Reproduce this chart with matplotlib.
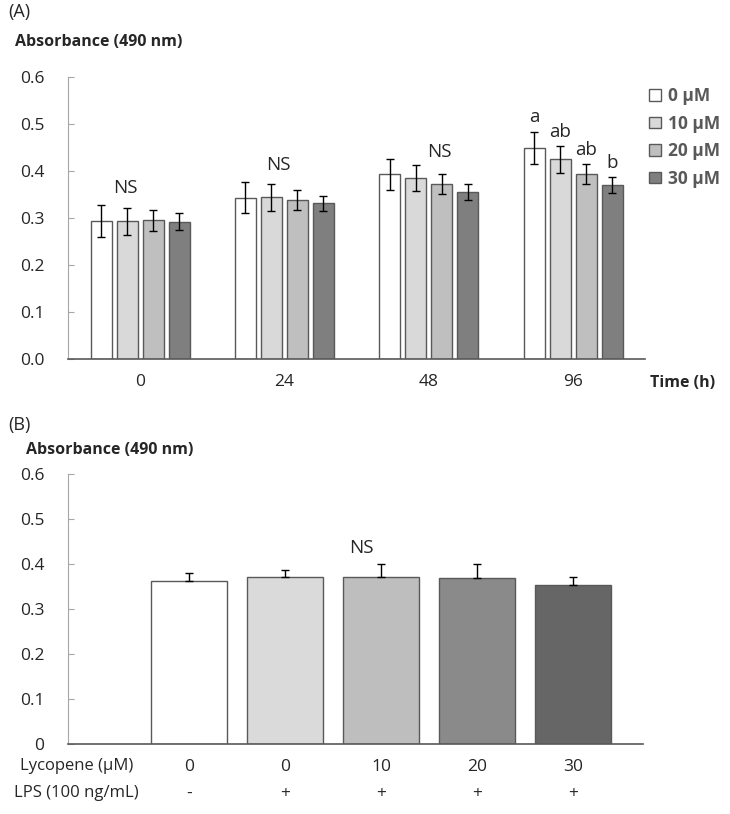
import matplotlib
matplotlib.use("Agg")
import matplotlib.pyplot as plt
import numpy as np

plt.rcParams['font.family'] = ['Open Sans', 'DejaVu Sans']

# panel A data
times = ["0", "24", "48", "96"]
doses = ["0 μM", "10 μM", "20 μM", "30 μM"]
means_a = [
    [0.294, 0.343, 0.394, 0.450],   # 0 uM
    [0.293, 0.344, 0.385, 0.425],   # 10 uM
    [0.295, 0.339, 0.373, 0.394],   # 20 uM
    [0.292, 0.332, 0.356, 0.370],   # 30 uM
]
errs_a = [
    [0.034, 0.033, 0.033, 0.034],
    [0.029, 0.028, 0.028, 0.028],
    [0.023, 0.021, 0.021, 0.021],
    [0.018, 0.016, 0.017, 0.017],
]
ns_a = ["NS", "NS", "NS"]
ns_a_pos = [(-0.10, 0.364), (-0.04, 0.413), (0.07, 0.440)]   # offset from group centre, height
letters_96 = ["a", "ab", "ab", "b"]

# panel B data
lycopene = ["0", "0", "10", "20", "30"]
lps = ["-", "+", "+", "+", "+"]
means_b = [0.361, 0.370, 0.370, 0.368, 0.353]
errs_b = [0.018, 0.017, 0.029, 0.031, 0.017]

colors_a = ["#ffffff", "#d9d9d9", "#bfbfbf", "#7f7f7f"]
colors_b = ["#ffffff", "#dadada", "#bebebe", "#8a8a8a", "#666666"]
edge = "#595959"
txt = "#262626"

fig = plt.figure(figsize=(7.3, 8.14), dpi=100)


def style_axis(ax, zero_label):
    ax.set_ylim(0, 0.6)
    ax.set_yticks(np.arange(0, 0.61, 0.1))
    labels = ["%.1f" % v for v in np.arange(0, 0.61, 0.1)]
    labels[0] = zero_label
    ax.set_yticklabels(labels, fontsize=12.5, color=txt)
    for s in ["top", "right"]:
        ax.spines[s].set_visible(False)
    ax.spines["left"].set_color("#a6a6a6")
    ax.spines["bottom"].set_color(edge)
    ax.spines["bottom"].set_linewidth(1.2)
    ax.tick_params(axis="y", direction="in", length=4, color="#a6a6a6", pad=17)
    ax.tick_params(axis="x", length=0)


# ---- (A)
ax1 = fig.add_axes([0.093, 0.559, 0.791, 0.346])
x = np.arange(len(times))
w = 0.146
step = 0.18
bars = []
for i in range(len(doses)):
    pos = x + (i - 1.5) * step
    b = ax1.bar(pos, means_a[i], w, color=colors_a[i], edgecolor=edge, linewidth=1.0, label=doses[i])
    ax1.errorbar(pos, means_a[i], yerr=errs_a[i], fmt="none", ecolor="black", elinewidth=1, capsize=3, capthick=1)
    bars.append(b)
ax1.set_xlim(-0.5, 3.5)
ax1.set_xticks(x)
ax1.set_xticklabels(times, fontsize=12.5, color=txt)
ax1.tick_params(axis="x", pad=11)
style_axis(ax1, "0.0")

for j, t in enumerate(ns_a):
    dx, hy = ns_a_pos[j]
    ax1.text(x[j] + dx, hy, t, ha="center", va="center", fontsize=13.5, color=txt)
for i, t in enumerate(letters_96):
    pos = x[3] + (i - 1.5) * step
    ax1.text(pos, means_a[i][3] + errs_a[i][3] + 0.031, t, ha="center", va="center", fontsize=13.5, color=txt)

leg = ax1.legend(handles=bars, loc="upper left", bbox_to_anchor=(0.995, 0.99), frameon=False,
                 handlelength=0.65, handleheight=0.65, handletextpad=0.4, labelspacing=0.55,
                 prop={"weight": "bold", "size": 12.5}, labelcolor="#595959", borderaxespad=0)

fig.text(0.011, 0.985, "(A)", fontsize=13, color=txt, va="center")
fig.text(0.020, 0.948, "Absorbance (490 nm)", fontsize=11.5, weight="bold", color=txt, va="center")
fig.text(0.89, 0.529, "Time (h)", fontsize=11.5, weight="bold", color=txt, va="center")

# ---- (B)
ax2 = fig.add_axes([0.093, 0.086, 0.788, 0.332])
xb = np.arange(1, len(means_b) + 1)
ax2.bar(xb, means_b, 0.79, color=colors_b, edgecolor=edge, linewidth=1.0)
ax2.errorbar(xb, means_b, yerr=[np.zeros(len(errs_b)), errs_b], fmt="none", ecolor="black",
             elinewidth=1, capsize=3, capthick=1)
ax2.set_xlim(-0.26, 5.73)
ax2.set_xticks([])
style_axis(ax2, "0")
ax2.text(xb[2] - 0.2, 0.436, "NS", ha="center", va="center", fontsize=13.5, color=txt)

for k in range(len(xb)):
    ax2.text(xb[k], -0.05, lycopene[k], ha="center", va="center", fontsize=12.5, color=txt)
    ax2.text(xb[k], -0.11, lps[k], ha="center", va="center", fontsize=12.5, color=txt)

fig.text(0.027, 0.059, "Lycopene (μM)", ha="left", va="center", fontsize=12, color=txt)
fig.text(0.019, 0.026, "LPS (100 ng/mL)", ha="left", va="center", fontsize=12, color=txt)

fig.text(0.011, 0.478, "(B)", fontsize=13, color=txt, va="center")
fig.text(0.036, 0.447, "Absorbance (490 nm)", fontsize=11.5, weight="bold", color=txt, va="center")

fig.savefig("out.png", dpi=100)
